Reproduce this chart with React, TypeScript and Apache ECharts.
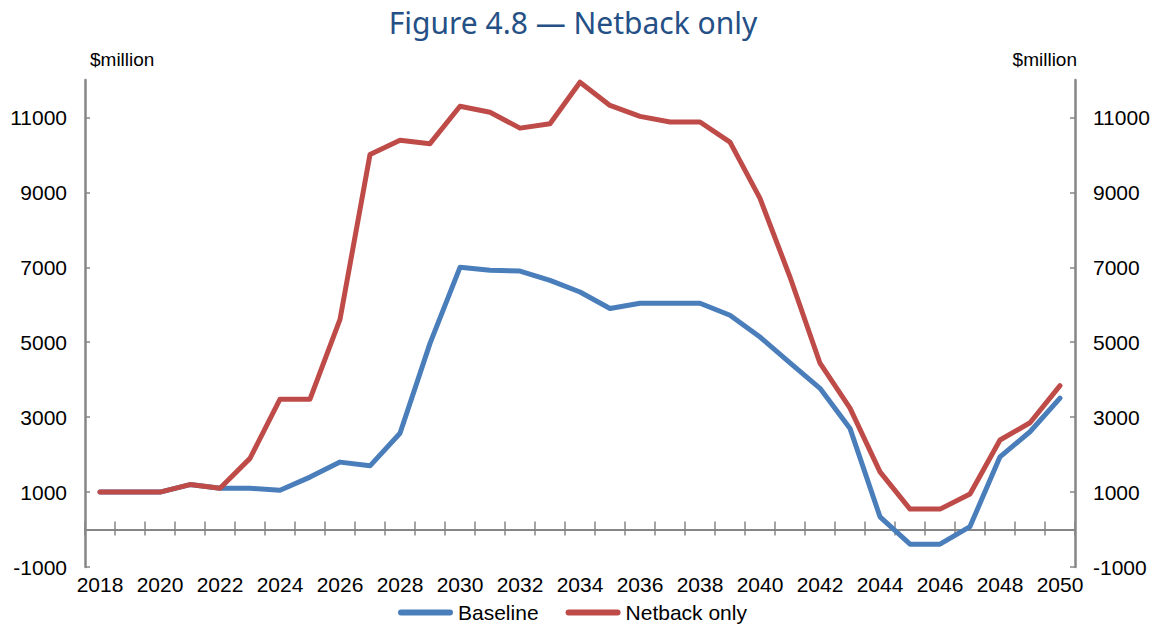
import React, { useEffect, useRef } from "react";
import * as echarts from "echarts";

const years = [
  "2018","2019","2020","2021","2022","2023","2024","2025","2026","2027","2028",
  "2029","2030","2031","2032","2033","2034","2035","2036","2037","2038","2039",
  "2040","2041","2042","2043","2044","2045","2046","2047","2048","2049","2050",
];

const baseline = [
  1000, 1000, 1000, 1200, 1100, 1100, 1050, 1400, 1800, 1700, 2570,
  4970, 7000, 6920, 6900, 6650, 6340, 5900, 6040, 6040, 6040, 5720,
  5140, 4450, 3770, 2700, 340, -390, -390, 80, 1940, 2610, 3510,
];

const netbackOnly = [
  1000, 1000, 1000, 1200, 1100, 1900, 3480, 3480, 5610, 10010, 10390,
  10300, 11300, 11140, 10715, 10830, 11940, 11320, 11030, 10880, 10880, 10340,
  8840, 6740, 4440, 3240, 1540, 545, 545, 950, 2390, 2850, 3840,
];

const yTicks = [-1000, 1000, 3000, 5000, 7000, 9000, 11000];
const yMin = -1000;
const yMax = 12000;

const AXIS_COLOR = "#868686";
const FONT = "'Liberation Sans', Arial, sans-serif";
const LEGEND_ICON = "path://M3,0 H52 A3,3 0 0 1 52,6 H3 A3,3 0 0 1 3,0 Z";

export default function App() {
  const ref = useRef<HTMLDivElement>(null);

  useEffect(() => {
    if (!ref.current) return;
    const chart = echarts.init(ref.current, null, { renderer: "svg" });

    const yAxisCommon = (pos: "left" | "right") => ({
      type: "value",
      position: pos,
      min: yMin,
      max: yMax,
      splitLine: { show: false },
      axisLine: { show: true, lineStyle: { color: AXIS_COLOR, width: 2.5 } },
      axisTick: {
        show: true,
        inside: true,
        length: 5,
        customValues: yTicks,
        lineStyle: { color: AXIS_COLOR, width: 1.5 },
      },
      axisLabel: {
        customValues: yTicks,
        formatter: (v: number) => String(v),
        color: "#000",
        fontFamily: FONT,
        fontSize: 21,
        margin: 18,
      },
    });

    const option: any = {
      animation: false,
      textStyle: { fontFamily: FONT },
      title: {
        text: "Figure 4.8 \u2014 Netback only",
        left: 568,
        textAlign: "center",
        top: 2,
        textStyle: {
          fontFamily: "'Noto Sans', sans-serif",
          fontSize: 30,
          fontWeight: "normal",
          color: "#245086",
        },
      },
      graphic: [
        {
          type: "text",
          left: 90,
          top: 50,
          style: { text: "$million", font: `19px ${FONT}`, fill: "#000" },
        },
        {
          type: "text",
          right: 84,
          top: 50,
          style: { text: "$million", font: `19px ${FONT}`, fill: "#000" },
        },
      ],
      legend: {
        top: 602,
        left: 398,
        padding: 0,
        icon: LEGEND_ICON,
        itemWidth: 55,
        itemHeight: 6,
        itemGap: 27,
        textStyle: { fontFamily: FONT, fontSize: 21, color: "#000" },
        data: [
          { name: "Baseline", itemStyle: { color: "#4A7EBB" } },
          { name: "Netback only", itemStyle: { color: "#BE4B48" } },
        ],
      },
      grid: { left: 85, right: 86, top: 80, bottom: 59 },
      xAxis: [
        {
          type: "category",
          data: years,
          position: "bottom",
          boundaryGap: true,
          axisLine: { show: false, onZero: false },
          axisTick: { show: false },
          axisLabel: {
            interval: 1,
            color: "#000",
            fontFamily: FONT,
            fontSize: 21,
            margin: 7,
          },
        },
        {
          type: "category",
          data: years,
          position: "top",
          boundaryGap: true,
          axisLine: { show: true, onZero: true, lineStyle: { color: AXIS_COLOR, width: 2 } },
          axisTick: { show: true, interval: 0, length: 8, lineStyle: { color: AXIS_COLOR, width: 1.5 } },
          axisLabel: { show: false },
        },
        {
          type: "category",
          data: years,
          position: "bottom",
          boundaryGap: true,
          axisLine: { show: true, onZero: true, lineStyle: { color: AXIS_COLOR, width: 2 } },
          axisTick: { show: true, interval: 0, length: 6, lineStyle: { color: AXIS_COLOR, width: 1.5 } },
          axisLabel: { show: false },
        },
      ],
      yAxis: [yAxisCommon("left"), yAxisCommon("right")],
      series: [
        {
          name: "Baseline",
          type: "line",
          data: baseline,
          xAxisIndex: 0,
          yAxisIndex: 0,
          symbol: "none",
          color: "#4A7EBB",
          lineStyle: { width: 5, color: "#4A7EBB", cap: "round", join: "round" },
          z: 3,
        },
        {
          name: "Netback only",
          type: "line",
          data: netbackOnly,
          xAxisIndex: 0,
          yAxisIndex: 0,
          symbol: "none",
          color: "#BE4B48",
          lineStyle: { width: 5, color: "#BE4B48", cap: "round", join: "round" },
          z: 4,
        },
      ],
    };

    chart.setOption(option);
    return () => chart.dispose();
  }, []);

  return (
    <div
      ref={ref}
      style={{ position: "absolute", left: 0, top: 0, width: 1161, height: 626 }}
    />
  );
}
